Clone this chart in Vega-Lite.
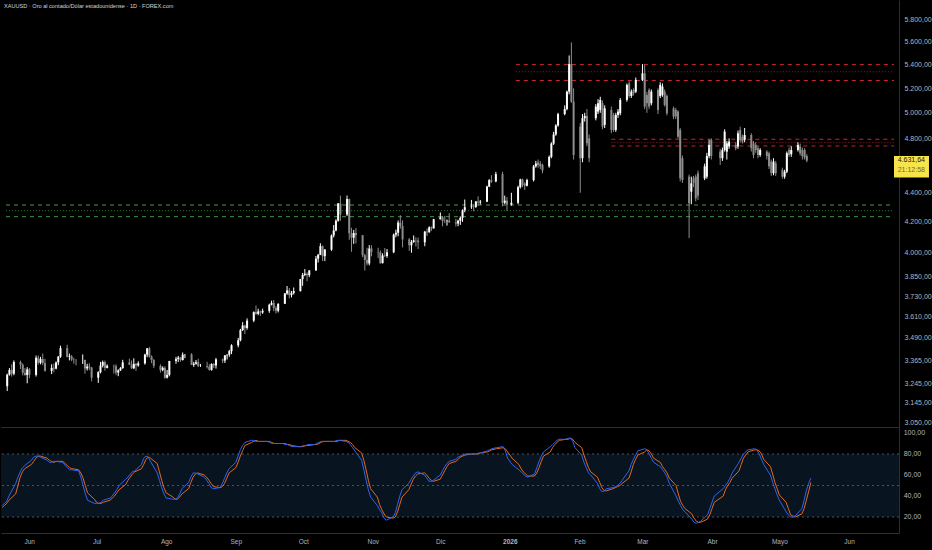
{
  "$schema": "https://vega.github.io/schema/vega-lite/v6.json",
  "background": "#000000",
  "padding": 0,
  "spacing": 0,
  "config": {
    "view": {"stroke": null},
    "font": "Liberation Sans",
    "locale": {"number": {"decimal": ",", "thousands": ".", "grouping": [3], "currency": ["", ""]}},
    "axis": {"grid": false, "ticks": false, "domainColor": "#2a2e39", "labelColor": "#b2b5be", "labelFont": "Liberation Sans", "title": null, "labelOverlap": false}
  },
  "resolve": {"scale": {"y": "independent", "x": "independent"}},
  "datasets": {
    "px": [
      {"t":"2025-05-20","o":3230,"h":3295,"l":3205,"c":3290,"k":31,"d":29},
      {"t":"2025-05-21","o":3290,"h":3325,"l":3285,"c":3315,"k":33,"d":31},
      {"t":"2025-05-22","o":3315,"h":3345,"l":3280,"c":3295,"k":35,"d":33},
      {"t":"2025-05-23","o":3295,"h":3366,"l":3287,"c":3357,"k":40,"d":36},
      {"t":"2025-05-26","o":3357,"h":3365,"l":3320,"c":3342,"k":52,"d":42},
      {"t":"2025-05-27","o":3342,"h":3350,"l":3286,"c":3300,"k":58,"d":50},
      {"t":"2025-05-28","o":3300,"h":3325,"l":3285,"c":3288,"k":63,"d":58},
      {"t":"2025-05-29","o":3288,"h":3330,"l":3245,"c":3318,"k":67,"d":63},
      {"t":"2025-05-30","o":3318,"h":3325,"l":3271,"c":3289,"k":69,"d":66},
      {"t":"2025-06-02","o":3289,"h":3392,"l":3280,"c":3380,"k":74,"d":70},
      {"t":"2025-06-03","o":3380,"h":3392,"l":3343,"c":3353,"k":77,"d":73},
      {"t":"2025-06-04","o":3353,"h":3385,"l":3345,"c":3373,"k":78,"d":76},
      {"t":"2025-06-05","o":3373,"h":3403,"l":3340,"c":3352,"k":78,"d":78},
      {"t":"2025-06-06","o":3352,"h":3375,"l":3306,"c":3310,"k":77,"d":78},
      {"t":"2025-06-09","o":3310,"h":3345,"l":3293,"c":3326,"k":74,"d":76},
      {"t":"2025-06-10","o":3326,"h":3349,"l":3302,"c":3322,"k":72,"d":74},
      {"t":"2025-06-11","o":3322,"h":3360,"l":3318,"c":3355,"k":72,"d":73},
      {"t":"2025-06-12","o":3355,"h":3390,"l":3340,"c":3386,"k":73,"d":72},
      {"t":"2025-06-13","o":3386,"h":3446,"l":3380,"c":3433,"k":73,"d":73},
      {"t":"2025-06-16","o":3433,"h":3451,"l":3382,"c":3385,"k":72,"d":73},
      {"t":"2025-06-17","o":3385,"h":3403,"l":3366,"c":3388,"k":69,"d":71},
      {"t":"2025-06-18","o":3388,"h":3395,"l":3362,"c":3370,"k":67,"d":69},
      {"t":"2025-06-19","o":3370,"h":3380,"l":3348,"c":3369,"k":65,"d":67},
      {"t":"2025-06-20","o":3369,"h":3372,"l":3340,"c":3368,"k":65,"d":66},
      {"t":"2025-06-23","o":3368,"h":3398,"l":3347,"c":3368,"k":64,"d":65},
      {"t":"2025-06-24","o":3368,"h":3370,"l":3295,"c":3323,"k":58,"d":62},
      {"t":"2025-06-25","o":3323,"h":3348,"l":3312,"c":3333,"k":50,"d":57},
      {"t":"2025-06-26","o":3333,"h":3350,"l":3315,"c":3328,"k":42,"d":50},
      {"t":"2025-06-27","o":3328,"h":3330,"l":3255,"c":3274,"k":36,"d":43},
      {"t":"2025-06-30","o":3274,"h":3308,"l":3247,"c":3303,"k":33,"d":37},
      {"t":"2025-07-01","o":3303,"h":3358,"l":3297,"c":3338,"k":33,"d":34},
      {"t":"2025-07-02","o":3338,"h":3365,"l":3328,"c":3357,"k":33,"d":33},
      {"t":"2025-07-03","o":3357,"h":3365,"l":3311,"c":3326,"k":34,"d":33},
      {"t":"2025-07-04","o":3326,"h":3345,"l":3323,"c":3337,"k":36,"d":34},
      {"t":"2025-07-07","o":3337,"h":3343,"l":3296,"c":3335,"k":38,"d":36},
      {"t":"2025-07-08","o":3335,"h":3345,"l":3287,"c":3301,"k":40,"d":38},
      {"t":"2025-07-09","o":3301,"h":3318,"l":3282,"c":3313,"k":43,"d":40},
      {"t":"2025-07-10","o":3313,"h":3330,"l":3310,"c":3325,"k":46,"d":43},
      {"t":"2025-07-11","o":3325,"h":3369,"l":3321,"c":3355,"k":50,"d":46},
      {"t":"2025-07-14","o":3355,"h":3375,"l":3341,"c":3343,"k":56,"d":51},
      {"t":"2025-07-15","o":3343,"h":3366,"l":3320,"c":3324,"k":58,"d":55},
      {"t":"2025-07-16","o":3324,"h":3377,"l":3319,"c":3347,"k":61,"d":58},
      {"t":"2025-07-17","o":3347,"h":3352,"l":3310,"c":3339,"k":63,"d":61},
      {"t":"2025-07-18","o":3339,"h":3361,"l":3332,"c":3350,"k":64,"d":63},
      {"t":"2025-07-21","o":3350,"h":3402,"l":3343,"c":3397,"k":70,"d":66},
      {"t":"2025-07-22","o":3397,"h":3433,"l":3383,"c":3431,"k":76,"d":70},
      {"t":"2025-07-23","o":3431,"h":3439,"l":3381,"c":3387,"k":78,"d":75},
      {"t":"2025-07-24","o":3387,"h":3393,"l":3351,"c":3368,"k":77,"d":77},
      {"t":"2025-07-25","o":3368,"h":3373,"l":3325,"c":3337,"k":73,"d":76},
      {"t":"2025-07-28","o":3337,"h":3345,"l":3301,"c":3314,"k":62,"d":71},
      {"t":"2025-07-29","o":3314,"h":3334,"l":3308,"c":3326,"k":55,"d":63},
      {"t":"2025-07-30","o":3326,"h":3334,"l":3268,"c":3274,"k":48,"d":55},
      {"t":"2025-07-31","o":3274,"h":3315,"l":3270,"c":3289,"k":42,"d":48},
      {"t":"2025-08-01","o":3289,"h":3363,"l":3281,"c":3363,"k":38,"d":43},
      {"t":"2025-08-04","o":3363,"h":3385,"l":3348,"c":3373,"k":37,"d":39},
      {"t":"2025-08-05","o":3373,"h":3390,"l":3357,"c":3381,"k":37,"d":37},
      {"t":"2025-08-06","o":3381,"h":3385,"l":3358,"c":3368,"k":38,"d":37},
      {"t":"2025-08-07","o":3368,"h":3409,"l":3365,"c":3397,"k":42,"d":39},
      {"t":"2025-08-08","o":3397,"h":3400,"l":3378,"c":3398,"k":47,"d":42},
      {"t":"2025-08-11","o":3398,"h":3405,"l":3341,"c":3342,"k":53,"d":47},
      {"t":"2025-08-12","o":3342,"h":3358,"l":3331,"c":3348,"k":58,"d":53},
      {"t":"2025-08-13","o":3348,"h":3368,"l":3343,"c":3356,"k":62,"d":58},
      {"t":"2025-08-14","o":3356,"h":3375,"l":3330,"c":3336,"k":62,"d":61},
      {"t":"2025-08-15","o":3336,"h":3347,"l":3331,"c":3336,"k":61,"d":62},
      {"t":"2025-08-18","o":3336,"h":3358,"l":3323,"c":3332,"k":58,"d":60},
      {"t":"2025-08-19","o":3332,"h":3345,"l":3311,"c":3315,"k":55,"d":58},
      {"t":"2025-08-20","o":3315,"h":3350,"l":3311,"c":3347,"k":52,"d":55},
      {"t":"2025-08-21","o":3347,"h":3351,"l":3325,"c":3339,"k":48,"d":52},
      {"t":"2025-08-22","o":3339,"h":3379,"l":3322,"c":3371,"k":47,"d":49},
      {"t":"2025-08-25","o":3371,"h":3376,"l":3351,"c":3365,"k":48,"d":48},
      {"t":"2025-08-26","o":3365,"h":3394,"l":3352,"c":3393,"k":52,"d":49},
      {"t":"2025-08-27","o":3393,"h":3398,"l":3371,"c":3397,"k":57,"d":52},
      {"t":"2025-08-28","o":3397,"h":3423,"l":3385,"c":3416,"k":62,"d":57},
      {"t":"2025-08-29","o":3416,"h":3454,"l":3400,"c":3448,"k":66,"d":62},
      {"t":"2025-09-01","o":3448,"h":3489,"l":3437,"c":3476,"k":72,"d":67},
      {"t":"2025-09-02","o":3476,"h":3540,"l":3470,"c":3533,"k":78,"d":72},
      {"t":"2025-09-03","o":3533,"h":3578,"l":3528,"c":3559,"k":84,"d":78},
      {"t":"2025-09-04","o":3559,"h":3563,"l":3511,"c":3545,"k":88,"d":83},
      {"t":"2025-09-05","o":3545,"h":3600,"l":3535,"c":3587,"k":91,"d":88},
      {"t":"2025-09-08","o":3587,"h":3640,"l":3578,"c":3636,"k":93,"d":91},
      {"t":"2025-09-09","o":3636,"h":3674,"l":3621,"c":3626,"k":93,"d":92},
      {"t":"2025-09-10","o":3626,"h":3656,"l":3618,"c":3640,"k":92,"d":93},
      {"t":"2025-09-11","o":3640,"h":3645,"l":3614,"c":3634,"k":92,"d":92},
      {"t":"2025-09-12","o":3634,"h":3656,"l":3626,"c":3643,"k":92,"d":92},
      {"t":"2025-09-15","o":3643,"h":3685,"l":3632,"c":3679,"k":92,"d":92},
      {"t":"2025-09-16","o":3679,"h":3703,"l":3675,"c":3689,"k":91,"d":92},
      {"t":"2025-09-17","o":3689,"h":3707,"l":3641,"c":3660,"k":90,"d":91},
      {"t":"2025-09-18","o":3660,"h":3671,"l":3628,"c":3644,"k":90,"d":90},
      {"t":"2025-09-19","o":3644,"h":3687,"l":3634,"c":3685,"k":90,"d":90},
      {"t":"2025-09-22","o":3685,"h":3749,"l":3683,"c":3746,"k":90,"d":90},
      {"t":"2025-09-23","o":3746,"h":3791,"l":3738,"c":3764,"k":89,"d":90},
      {"t":"2025-09-24","o":3764,"h":3779,"l":3717,"c":3736,"k":89,"d":89},
      {"t":"2025-09-25","o":3736,"h":3761,"l":3722,"c":3749,"k":88,"d":89},
      {"t":"2025-09-26","o":3749,"h":3782,"l":3740,"c":3760,"k":87,"d":88},
      {"t":"2025-09-29","o":3760,"h":3834,"l":3758,"c":3833,"k":87,"d":87},
      {"t":"2025-09-30","o":3833,"h":3871,"l":3792,"c":3858,"k":87,"d":87},
      {"t":"2025-10-01","o":3858,"h":3895,"l":3851,"c":3866,"k":88,"d":87},
      {"t":"2025-10-02","o":3866,"h":3875,"l":3820,"c":3857,"k":88,"d":88},
      {"t":"2025-10-03","o":3857,"h":3889,"l":3845,"c":3886,"k":89,"d":88},
      {"t":"2025-10-06","o":3886,"h":3977,"l":3885,"c":3960,"k":89,"d":89},
      {"t":"2025-10-07","o":3960,"h":3990,"l":3936,"c":3985,"k":90,"d":89},
      {"t":"2025-10-08","o":3985,"h":4059,"l":3983,"c":4040,"k":91,"d":90},
      {"t":"2025-10-09","o":4040,"h":4045,"l":3945,"c":3976,"k":92,"d":91},
      {"t":"2025-10-10","o":3976,"h":4022,"l":3945,"c":4018,"k":92,"d":92},
      {"t":"2025-10-13","o":4018,"h":4116,"l":4010,"c":4110,"k":92,"d":92},
      {"t":"2025-10-14","o":4110,"h":4179,"l":4097,"c":4143,"k":92,"d":92},
      {"t":"2025-10-15","o":4143,"h":4218,"l":4137,"c":4208,"k":92,"d":92},
      {"t":"2025-10-16","o":4208,"h":4329,"l":4201,"c":4326,"k":93,"d":92},
      {"t":"2025-10-17","o":4326,"h":4380,"l":4207,"c":4250,"k":93,"d":93},
      {"t":"2025-10-20","o":4250,"h":4381,"l":4240,"c":4356,"k":92,"d":93},
      {"t":"2025-10-21","o":4356,"h":4359,"l":4082,"c":4125,"k":91,"d":92},
      {"t":"2025-10-22","o":4125,"h":4161,"l":4004,"c":4095,"k":89,"d":91},
      {"t":"2025-10-23","o":4095,"h":4146,"l":4055,"c":4126,"k":86,"d":89},
      {"t":"2025-10-24","o":4126,"h":4160,"l":4058,"c":4112,"k":83,"d":86},
      {"t":"2025-10-27","o":4112,"h":4112,"l":3970,"c":3982,"k":74,"d":81},
      {"t":"2025-10-28","o":3982,"h":3991,"l":3886,"c":3952,"k":65,"d":74},
      {"t":"2025-10-29","o":3952,"h":4030,"l":3918,"c":3930,"k":55,"d":65},
      {"t":"2025-10-30","o":3930,"h":4047,"l":3918,"c":4025,"k":46,"d":55},
      {"t":"2025-10-31","o":4025,"h":4046,"l":3975,"c":4002,"k":39,"d":47},
      {"t":"2025-11-03","o":4002,"h":4030,"l":3963,"c":4000,"k":31,"d":39},
      {"t":"2025-11-04","o":4000,"h":4013,"l":3928,"c":3932,"k":27,"d":32},
      {"t":"2025-11-05","o":3932,"h":3994,"l":3930,"c":3980,"k":24,"d":27},
      {"t":"2025-11-06","o":3980,"h":4028,"l":3970,"c":3977,"k":19,"d":23},
      {"t":"2025-11-07","o":3977,"h":4022,"l":3966,"c":4001,"k":17,"d":20},
      {"t":"2025-11-10","o":4001,"h":4122,"l":3995,"c":4115,"k":20,"d":19},
      {"t":"2025-11-11","o":4115,"h":4148,"l":4098,"c":4128,"k":24,"d":20},
      {"t":"2025-11-12","o":4128,"h":4210,"l":4105,"c":4195,"k":32,"d":25},
      {"t":"2025-11-13","o":4195,"h":4245,"l":4155,"c":4172,"k":40,"d":32},
      {"t":"2025-11-14","o":4172,"h":4211,"l":4032,"c":4084,"k":46,"d":39},
      {"t":"2025-11-17","o":4084,"h":4093,"l":4010,"c":4046,"k":52,"d":46},
      {"t":"2025-11-18","o":4046,"h":4080,"l":3998,"c":4067,"k":56,"d":51},
      {"t":"2025-11-19","o":4067,"h":4110,"l":4062,"c":4078,"k":59,"d":56},
      {"t":"2025-11-20","o":4078,"h":4098,"l":4038,"c":4077,"k":62,"d":59},
      {"t":"2025-11-21","o":4077,"h":4096,"l":4022,"c":4065,"k":63,"d":61},
      {"t":"2025-11-24","o":4065,"h":4140,"l":4040,"c":4135,"k":60,"d":62},
      {"t":"2025-11-25","o":4135,"h":4156,"l":4107,"c":4131,"k":57,"d":60},
      {"t":"2025-11-26","o":4131,"h":4170,"l":4128,"c":4164,"k":54,"d":57},
      {"t":"2025-11-27","o":4164,"h":4169,"l":4140,"c":4157,"k":54,"d":55},
      {"t":"2025-11-28","o":4157,"h":4220,"l":4155,"c":4218,"k":55,"d":54},
      {"t":"2025-12-01","o":4218,"h":4264,"l":4216,"c":4231,"k":60,"d":56},
      {"t":"2025-12-02","o":4231,"h":4240,"l":4170,"c":4206,"k":64,"d":60},
      {"t":"2025-12-03","o":4206,"h":4240,"l":4191,"c":4205,"k":68,"d":64},
      {"t":"2025-12-04","o":4205,"h":4216,"l":4175,"c":4208,"k":71,"d":68},
      {"t":"2025-12-05","o":4208,"h":4259,"l":4195,"c":4197,"k":73,"d":71},
      {"t":"2025-12-08","o":4197,"h":4221,"l":4169,"c":4189,"k":75,"d":73},
      {"t":"2025-12-09","o":4189,"h":4215,"l":4171,"c":4208,"k":77,"d":75},
      {"t":"2025-12-10","o":4208,"h":4237,"l":4180,"c":4228,"k":78,"d":77},
      {"t":"2025-12-11","o":4228,"h":4285,"l":4200,"c":4279,"k":79,"d":78},
      {"t":"2025-12-12","o":4279,"h":4353,"l":4265,"c":4300,"k":80,"d":79},
      {"t":"2025-12-15","o":4300,"h":4350,"l":4288,"c":4305,"k":80,"d":80},
      {"t":"2025-12-16","o":4305,"h":4320,"l":4272,"c":4302,"k":80,"d":80},
      {"t":"2025-12-17","o":4302,"h":4342,"l":4295,"c":4339,"k":80,"d":80},
      {"t":"2025-12-18","o":4339,"h":4375,"l":4309,"c":4332,"k":81,"d":80},
      {"t":"2025-12-19","o":4332,"h":4350,"l":4318,"c":4338,"k":81,"d":81},
      {"t":"2025-12-22","o":4338,"h":4450,"l":4335,"c":4444,"k":83,"d":82},
      {"t":"2025-12-23","o":4444,"h":4497,"l":4440,"c":4490,"k":84,"d":83},
      {"t":"2025-12-24","o":4490,"h":4525,"l":4470,"c":4480,"k":85,"d":84},
      {"t":"2025-12-26","o":4480,"h":4550,"l":4475,"c":4533,"k":86,"d":85},
      {"t":"2025-12-29","o":4533,"h":4550,"l":4305,"c":4330,"k":87,"d":86},
      {"t":"2025-12-30","o":4330,"h":4380,"l":4320,"c":4345,"k":83,"d":85},
      {"t":"2025-12-31","o":4345,"h":4370,"l":4275,"c":4318,"k":76,"d":82},
      {"t":"2026-01-02","o":4318,"h":4400,"l":4310,"c":4330,"k":70,"d":76},
      {"t":"2026-01-05","o":4330,"h":4450,"l":4320,"c":4440,"k":65,"d":70},
      {"t":"2026-01-06","o":4440,"h":4500,"l":4430,"c":4495,"k":63,"d":66},
      {"t":"2026-01-07","o":4495,"h":4500,"l":4440,"c":4455,"k":61,"d":63},
      {"t":"2026-01-08","o":4465,"h":4475,"l":4420,"c":4450,"k":59,"d":61},
      {"t":"2026-01-09","o":4450,"h":4500,"l":4445,"c":4490,"k":58,"d":59},
      {"t":"2026-01-12","o":4490,"h":4600,"l":4480,"c":4590,"k":61,"d":59},
      {"t":"2026-01-13","o":4590,"h":4630,"l":4580,"c":4610,"k":67,"d":62},
      {"t":"2026-01-14","o":4620,"h":4640,"l":4580,"c":4600,"k":73,"d":67},
      {"t":"2026-01-15","o":4610,"h":4630,"l":4570,"c":4590,"k":78,"d":73},
      {"t":"2026-01-16","o":4600,"h":4610,"l":4540,"c":4560,"k":82,"d":78},
      {"t":"2026-01-19","o":4590,"h":4670,"l":4580,"c":4660,"k":87,"d":82},
      {"t":"2026-01-20","o":4660,"h":4770,"l":4650,"c":4760,"k":89,"d":86},
      {"t":"2026-01-21","o":4760,"h":4850,"l":4750,"c":4830,"k":91,"d":89},
      {"t":"2026-01-22","o":4830,"h":4910,"l":4820,"c":4900,"k":93,"d":91},
      {"t":"2026-01-23","o":4900,"h":5000,"l":4890,"c":4990,"k":94,"d":93},
      {"t":"2026-01-26","o":4990,"h":5060,"l":4980,"c":5030,"k":94,"d":94},
      {"t":"2026-01-27","o":5030,"h":5180,"l":5020,"c":5172,"k":95,"d":94},
      {"t":"2026-01-28","o":5172,"h":5480,"l":5150,"c":5405,"k":95,"d":95},
      {"t":"2026-01-29","o":5405,"h":5595,"l":5080,"c":5090,"k":92,"d":94},
      {"t":"2026-01-30","o":5090,"h":5200,"l":4640,"c":4674,"k":86,"d":91},
      {"t":"2026-02-02","o":4891,"h":4920,"l":4400,"c":4650,"k":79,"d":86},
      {"t":"2026-02-03","o":4650,"h":4990,"l":4620,"c":4957,"k":72,"d":79},
      {"t":"2026-02-04","o":4957,"h":5000,"l":4930,"c":4975,"k":67,"d":73},
      {"t":"2026-02-05","o":4975,"h":5030,"l":4740,"c":4762,"k":62,"d":67},
      {"t":"2026-02-06","o":4800,"h":4830,"l":4620,"c":4650,"k":60,"d":63},
      {"t":"2026-02-09","o":4957,"h":5070,"l":4940,"c":5050,"k":52,"d":58},
      {"t":"2026-02-10","o":5010,"h":5110,"l":4990,"c":5077,"k":47,"d":53},
      {"t":"2026-02-11","o":5023,"h":5130,"l":5000,"c":5104,"k":44,"d":48},
      {"t":"2026-02-12","o":5077,"h":5100,"l":4870,"c":4891,"k":45,"d":45},
      {"t":"2026-02-13","o":4904,"h":5060,"l":4880,"c":5036,"k":47,"d":45},
      {"t":"2026-02-16","o":5023,"h":5050,"l":4840,"c":4865,"k":48,"d":47},
      {"t":"2026-02-17","o":4983,"h":5000,"l":4850,"c":4865,"k":49,"d":48},
      {"t":"2026-02-18","o":4865,"h":5000,"l":4850,"c":4983,"k":50,"d":49},
      {"t":"2026-02-19","o":4983,"h":5030,"l":4960,"c":5010,"k":52,"d":50},
      {"t":"2026-02-20","o":4996,"h":5120,"l":4980,"c":5104,"k":55,"d":52},
      {"t":"2026-02-23","o":5104,"h":5240,"l":5090,"c":5228,"k":64,"d":57},
      {"t":"2026-02-24","o":5240,"h":5260,"l":5120,"c":5136,"k":70,"d":63},
      {"t":"2026-02-25","o":5136,"h":5190,"l":5120,"c":5172,"k":75,"d":70},
      {"t":"2026-02-26","o":5186,"h":5200,"l":5140,"c":5160,"k":79,"d":75},
      {"t":"2026-02-27","o":5172,"h":5290,"l":5160,"c":5270,"k":83,"d":79},
      {"t":"2026-03-02","o":5270,"h":5405,"l":5260,"c":5326,"k":85,"d":82},
      {"t":"2026-03-03","o":5326,"h":5400,"l":5030,"c":5050,"k":84,"d":84},
      {"t":"2026-03-04","o":5145,"h":5170,"l":5000,"c":5077,"k":80,"d":83},
      {"t":"2026-03-05","o":5186,"h":5200,"l":5030,"c":5050,"k":76,"d":80},
      {"t":"2026-03-06","o":5077,"h":5190,"l":5060,"c":5172,"k":72,"d":76},
      {"t":"2026-03-09","o":5186,"h":5200,"l":4990,"c":5023,"k":68,"d":72},
      {"t":"2026-03-10","o":5136,"h":5250,"l":5120,"c":5228,"k":65,"d":68},
      {"t":"2026-03-11","o":5145,"h":5240,"l":5130,"c":5214,"k":62,"d":65},
      {"t":"2026-03-12","o":5172,"h":5190,"l":5050,"c":5063,"k":58,"d":62},
      {"t":"2026-03-13","o":5136,"h":5150,"l":4980,"c":4996,"k":52,"d":57},
      {"t":"2026-03-16","o":5036,"h":5050,"l":4950,"c":4970,"k":40,"d":50},
      {"t":"2026-03-17","o":5023,"h":5040,"l":4950,"c":4970,"k":35,"d":42},
      {"t":"2026-03-18","o":5010,"h":5020,"l":4800,"c":4813,"k":31,"d":35},
      {"t":"2026-03-19","o":4865,"h":4880,"l":4480,"c":4503,"k":27,"d":31},
      {"t":"2026-03-20","o":4650,"h":4670,"l":4470,"c":4491,"k":25,"d":28},
      {"t":"2026-03-23","o":4515,"h":4530,"l":4092,"c":4327,"k":18,"d":23},
      {"t":"2026-03-24","o":4408,"h":4515,"l":4320,"c":4467,"k":15,"d":19},
      {"t":"2026-03-25","o":4503,"h":4520,"l":4440,"c":4470,"k":14,"d":16},
      {"t":"2026-03-26","o":4515,"h":4530,"l":4340,"c":4362,"k":15,"d":15},
      {"t":"2026-03-27","o":4540,"h":4560,"l":4350,"c":4380,"k":16,"d":15},
      {"t":"2026-03-30","o":4503,"h":4610,"l":4490,"c":4590,"k":22,"d":18},
      {"t":"2026-03-31","o":4515,"h":4690,"l":4500,"c":4666,"k":28,"d":22},
      {"t":"2026-04-01","o":4666,"h":4790,"l":4650,"c":4750,"k":34,"d":28},
      {"t":"2026-04-02","o":4788,"h":4800,"l":4640,"c":4666,"k":40,"d":34},
      {"t":"2026-04-06","o":4699,"h":4720,"l":4600,"c":4650,"k":47,"d":40},
      {"t":"2026-04-07","o":4650,"h":4730,"l":4630,"c":4712,"k":50,"d":46},
      {"t":"2026-04-08","o":4712,"h":4870,"l":4700,"c":4852,"k":53,"d":50},
      {"t":"2026-04-09","o":4699,"h":4780,"l":4640,"c":4762,"k":57,"d":53},
      {"t":"2026-04-10","o":4738,"h":4800,"l":4720,"c":4775,"k":62,"d":57},
      {"t":"2026-04-13","o":4750,"h":4770,"l":4710,"c":4725,"k":72,"d":64},
      {"t":"2026-04-14","o":4738,"h":4860,"l":4720,"c":4839,"k":76,"d":70},
      {"t":"2026-04-15","o":4865,"h":4890,"l":4770,"c":4788,"k":80,"d":76},
      {"t":"2026-04-16","o":4813,"h":4830,"l":4760,"c":4775,"k":82,"d":79},
      {"t":"2026-04-17","o":4788,"h":4880,"l":4770,"c":4826,"k":84,"d":82},
      {"t":"2026-04-20","o":4826,"h":4840,"l":4700,"c":4725,"k":85,"d":84},
      {"t":"2026-04-21","o":4762,"h":4780,"l":4650,"c":4674,"k":84,"d":84},
      {"t":"2026-04-22","o":4750,"h":4770,"l":4690,"c":4712,"k":80,"d":83},
      {"t":"2026-04-23","o":4725,"h":4740,"l":4650,"c":4674,"k":75,"d":80},
      {"t":"2026-04-24","o":4674,"h":4725,"l":4660,"c":4712,"k":70,"d":75},
      {"t":"2026-04-27","o":4699,"h":4710,"l":4640,"c":4666,"k":60,"d":68},
      {"t":"2026-04-28","o":4687,"h":4700,"l":4570,"c":4590,"k":53,"d":61},
      {"t":"2026-04-29","o":4625,"h":4640,"l":4520,"c":4540,"k":47,"d":53},
      {"t":"2026-04-30","o":4540,"h":4650,"l":4525,"c":4625,"k":41,"d":47},
      {"t":"2026-05-01","o":4613,"h":4630,"l":4520,"c":4540,"k":36,"d":41},
      {"t":"2026-05-04","o":4564,"h":4580,"l":4500,"c":4515,"k":25,"d":34},
      {"t":"2026-05-05","o":4515,"h":4565,"l":4500,"c":4551,"k":22,"d":28},
      {"t":"2026-05-06","o":4551,"h":4700,"l":4540,"c":4687,"k":20,"d":22},
      {"t":"2026-05-07","o":4712,"h":4730,"l":4660,"c":4674,"k":20,"d":21},
      {"t":"2026-05-08","o":4680,"h":4740,"l":4660,"c":4712,"k":21,"d":20},
      {"t":"2026-05-11","o":4712,"h":4770,"l":4700,"c":4750,"k":28,"d":23},
      {"t":"2026-05-12","o":4738,"h":4760,"l":4670,"c":4687,"k":36,"d":28},
      {"t":"2026-05-13","o":4712,"h":4730,"l":4640,"c":4666,"k":45,"d":36},
      {"t":"2026-05-14","o":4712,"h":4725,"l":4640,"c":4655,"k":52,"d":44},
      {"t":"2026-05-15","o":4666,"h":4680,"l":4620,"c":4632,"k":57,"d":53}
    ],
    "levels": [
      {"side":"resistance","role":"edge","level":5401,"from":"2026-01-04","to":"2026-06-23T06:00:00Z"},
      {"side":"resistance","role":"mid","level":5339,"from":"2026-01-04","to":"2026-06-23T06:00:00Z"},
      {"side":"resistance","role":"edge","level":5265,"from":"2026-01-04","to":"2026-06-23T06:00:00Z"},
      {"side":"resistance","role":"edge","level":4793,"from":"2026-02-16","to":"2026-06-23T06:00:00Z"},
      {"side":"resistance","role":"mid","level":4768,"from":"2026-02-16","to":"2026-06-23T06:00:00Z"},
      {"side":"resistance","role":"edge","level":4742,"from":"2026-02-16","to":"2026-06-23T06:00:00Z"},
      {"side":"support","role":"edge","level":4315,"from":"2025-05-19T11:00:00Z","to":"2026-06-23T06:00:00Z"},
      {"side":"support","role":"mid","level":4276,"from":"2025-05-19T11:00:00Z","to":"2026-06-23T06:00:00Z"},
      {"side":"support","role":"edge","level":4235,"from":"2025-05-19T11:00:00Z","to":"2026-06-23T06:00:00Z"}
    ],
    "tag": [
      {"from":"2026-06-23T06:00:00Z","to":"2026-07-09","top":4667,"bottom":4508}
    ],
    "tagText": [
      {"at_t":"2026-06-24","label":"4.631,64","at":4638,"kind":"price"},
      {"at_t":"2026-06-24","label":"21:12:58","at":4566,"kind":"timer"}
    ],
    "osc": [
      {"g": 80}, {"g": 50}, {"g": 20}
    ],
    "oscTicks": [
      {"v": 100, "at_t": "2026-06-24"}, {"v": 80, "at_t": "2026-06-24"}, {"v": 60, "at_t": "2026-06-24"},
      {"v": 40, "at_t": "2026-06-24"}, {"v": 20, "at_t": "2026-06-24"}
    ]
  },
  "vconcat": [
    {
      "width": 898,
      "height": 427,
      "title": {
        "text": "XAUUSD · Oro al contado/Dólar estadounidense · 1D · FOREX.com",
        "anchor": "start", "orient": "top", "offset": -10, "dx": 3,
        "fontSize": 5.6, "fontWeight": "normal", "color": "#d1d4dc", "font": "Liberation Sans"
      },
      "layer": [
        {
          "data": {"name": "levels"},
          "mark": {"type": "rule", "strokeWidth": 1},
          "encoding": {
            "x": {"field": "from", "type": "temporal",
              "scale": {"domain": [{"year": 2025, "month": 5, "date": 19, "hours": 11, "utc": true}, {"year": 2026, "month": 6, "date": 23, "hours": 6, "utc": true}]},
              "axis": {"labels": false, "domain": true, "ticks": false, "grid": false, "minExtent": 0, "maxExtent": 0}},
            "x2": {"field": "to"},
            "y": {"field": "level", "type": "quantitative",
              "scale": {"type": "log", "domain": [3026, 5988], "nice": false, "zero": false},
              "axis": {"orient": "right", "values": [3050, 3145, 3245, 3365, 3490, 3610, 3730, 3850, 4000, 4200, 4400, 4800, 5000, 5200, 5400, 5600, 5800],
                "format": ",.2f", "labelFontSize": 7, "labelPadding": 5, "labelAlign": "left", "labelOverlap": false, "minExtent": 34, "maxExtent": 34, "domain": true}},
            "color": {"field": "side", "type": "nominal", "legend": null,
              "scale": {"domain": ["resistance", "support"], "range": ["#c4252e", "#3e9a43"]}},
            "strokeDash": {"field": "role", "type": "nominal", "legend": null,
              "scale": {"domain": ["edge", "mid"], "range": [[4, 4], [1, 2]]}},
            "opacity": {"field": "role", "type": "nominal", "legend": null,
              "scale": {"domain": ["edge", "mid"], "range": [1, 0.75]}}
          }
        },
        {
          "data": {"name": "px"},
          "mark": {"type": "rule", "strokeWidth": 1},
          "encoding": {
            "x": {"field": "t", "type": "temporal"},
            "y": {"field": "l", "type": "quantitative"},
            "y2": {"field": "h"},
            "color": {"condition": {"test": "datum.c >= datum.o", "value": "#ffffff"}, "value": "#8c8c8c"}
          }
        },
        {
          "data": {"name": "px"},
          "mark": {"type": "bar", "width": 2},
          "encoding": {
            "x": {"field": "t", "type": "temporal"},
            "y": {"field": "o", "type": "quantitative"},
            "y2": {"field": "c"},
            "color": {"condition": {"test": "datum.c >= datum.o", "value": "#ffffff"}, "value": "#8c8c8c"}
          }
        },
        {
          "data": {"name": "tag"},
          "mark": {"type": "rect", "color": "#f7e34a"},
          "encoding": {
            "x": {"field": "from", "type": "temporal"},
            "x2": {"field": "to"},
            "y": {"field": "top", "type": "quantitative"},
            "y2": {"field": "bottom"}
          }
        },
        {
          "data": {"name": "tagText"},
          "mark": {"type": "text", "align": "left", "baseline": "middle", "dx": 2, "fontSize": 7, "font": "Liberation Sans"},
          "encoding": {
            "x": {"field": "at_t", "type": "temporal"},
            "y": {"field": "at", "type": "quantitative"},
            "text": {"field": "label"},
            "color": {"condition": {"test": "datum.kind === 'price'", "value": "#1a1a1a"}, "value": "#6f6a3a"}
          }
        }
      ]
    },
    {
      "width": 898,
      "height": 106,
      "layer": [
        {
          "data": {"values": [{"lo": 20, "hi": 80}]},
          "mark": {"type": "rect", "color": "#08141f"},
          "encoding": {
            "y": {"field": "lo", "type": "quantitative",
              "scale": {"domain": [4.8, 105.7], "nice": false, "zero": false},
              "axis": {"orient": "right", "labels": false, "minExtent": 34, "maxExtent": 34, "domain": true}},
            "y2": {"field": "hi"}
          }
        },
        {
          "data": {"name": "osc"},
          "mark": {"type": "rule", "color": "#4e525c", "strokeDash": [2, 3], "strokeWidth": 1},
          "encoding": {"y": {"field": "g", "type": "quantitative"}}
        },
        {
          "data": {"name": "px"},
          "mark": {"type": "line", "color": "#e8691c", "strokeWidth": 1},
          "encoding": {
            "x": {"field": "t", "type": "temporal",
              "scale": {"domain": [{"year": 2025, "month": 5, "date": 19, "hours": 11, "utc": true}, {"year": 2026, "month": 6, "date": 23, "hours": 6, "utc": true}]},
              "axis": {"orient": "bottom", "domain": true, "ticks": false, "grid": false, "labelFontSize": 6.5, "labelPadding": 5, "labelOverlap": false, "labelBound": false, "minExtent": 17, "maxExtent": 17,
                "values": [
                  {"year": 2025, "month": 6, "date": 1, "utc": true}, {"year": 2025, "month": 7, "date": 1, "utc": true},
                  {"year": 2025, "month": 8, "date": 1, "utc": true}, {"year": 2025, "month": 9, "date": 1, "utc": true},
                  {"year": 2025, "month": 10, "date": 1, "utc": true}, {"year": 2025, "month": 11, "date": 1, "utc": true},
                  {"year": 2025, "month": 12, "date": 1, "utc": true}, {"year": 2026, "month": 1, "date": 1, "utc": true},
                  {"year": 2026, "month": 2, "date": 1, "utc": true}, {"year": 2026, "month": 3, "date": 1, "utc": true},
                  {"year": 2026, "month": 4, "date": 1, "utc": true}, {"year": 2026, "month": 5, "date": 1, "utc": true},
                  {"year": 2026, "month": 6, "date": 1, "utc": true}
                ],
                "labelExpr": "['2026','Feb','Mar','Abr','Mayo','Jun','Jul','Ago','Sep','Oct','Nov','Dic'][utcmonth(datum.value)]",
                "labelFontWeight": {"condition": {"test": "utcmonth(datum.value) === 0", "value": "bold"}, "value": "normal"}}},
            "y": {"field": "d", "type": "quantitative"}
          }
        },
        {
          "data": {"name": "px"},
          "mark": {"type": "line", "color": "#2f63f0", "strokeWidth": 1},
          "encoding": {
            "x": {"field": "t", "type": "temporal"},
            "y": {"field": "k", "type": "quantitative"}
          }
        },
        {
          "data": {"name": "oscTicks"},
          "mark": {"type": "text", "align": "left", "baseline": "middle", "dx": 3, "fontSize": 7, "font": "Liberation Sans", "color": "#b2b5be"},
          "encoding": {
            "x": {"field": "at_t", "type": "temporal"},
            "y": {"field": "v", "type": "quantitative"},
            "text": {"field": "v", "type": "quantitative", "format": ",.2f"}
          }
        }
      ]
    }
  ]
}
